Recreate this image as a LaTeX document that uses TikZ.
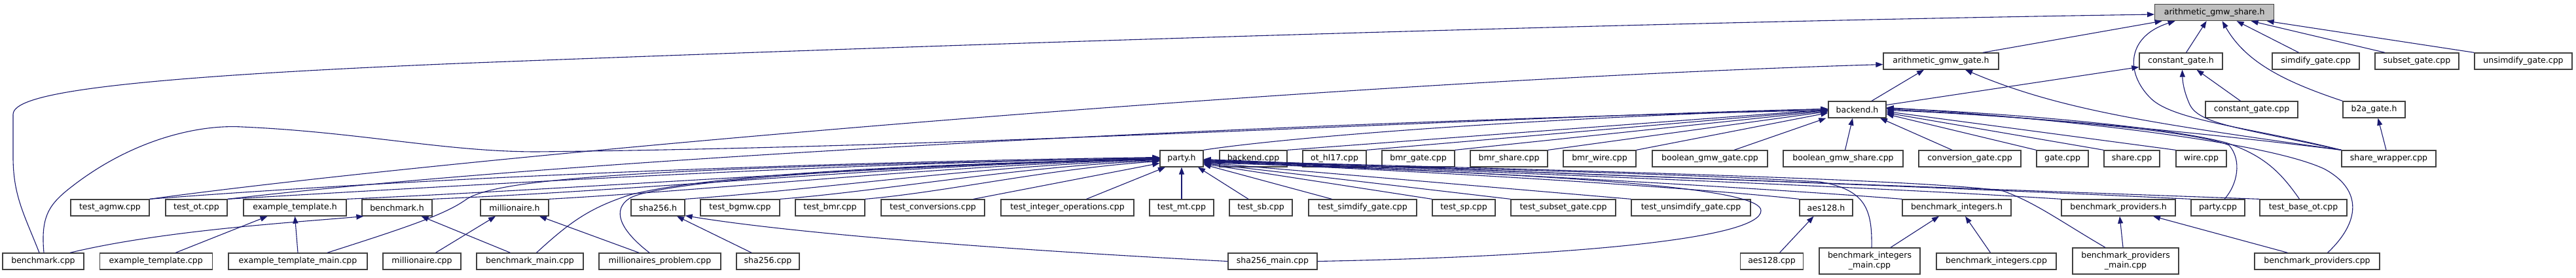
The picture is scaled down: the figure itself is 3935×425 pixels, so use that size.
\documentclass[tikz,border=0pt]{standalone}
\usepackage{fontspec}
\setmainfont{DejaVu Sans}
\usetikzlibrary{arrows.meta}
\definecolor{edgec}{HTML}{191970}
\definecolor{boxc}{HTML}{404040}
\definecolor{rootc}{HTML}{BFBFBF}
\begin{document}
\begin{tikzpicture}[x=1pt,y=-1pt,
  box/.style={draw=boxc,line width=1.3pt,fill=white,minimum height=25pt,inner sep=0pt,font=\fontsize{12.5}{15}\selectfont,align=center},
  twoline/.style={box,minimum height=40pt},
  dep/.style={draw=edgec,line width=1.1pt,line join=round,-{Triangle[length=11pt,width=8pt]}}]
\fill[white] (0,0) rectangle (3935,425);
\useasboundingbox (0,0) rectangle (3935,425);
% row 0
\node[box,fill=rootc,minimum width=182pt] (A0) at (3382.6,19) {arithmetic\_gmw\_share.h};
% row 1
\node[box,minimum width=176pt] (agate) at (2965,93.5) {arithmetic\_gmw\_gate.h};
\node[box,minimum width=127pt] (cgateh) at (3331.5,93.5) {constant\_gate.h};
\node[box,minimum width=133pt] (simd) at (3537.5,93.5) {simdify\_gate.cpp};
\node[box,minimum width=128pt] (subset) at (3692,93.5) {subset\_gate.cpp};
\node[box,minimum width=149pt] (unsimd) at (3854.5,93.5) {unsimdify\_gate.cpp};
% row 2
\node[box,minimum width=88pt] (backendh) at (2837,167.5) {backend.h};
\node[box,minimum width=141pt] (cgatecpp) at (3439.5,167.5) {constant\_gate.cpp};
\node[box,minimum width=95pt] (b2a) at (3626.5,167.5) {b2a\_gate.h};
% row 3
\node[box,minimum width=66pt] (partyh) at (1805,242.5) {party.h};
\node[box,minimum width=103pt] (backendcpp) at (1914.5,242.5) {backend.cpp};
\node[box,minimum width=97pt] (othl17) at (2038.5,242.5) {ot\_hl17.cpp};
\node[box,minimum width=111pt] (bmrgate) at (2166.5,242.5) {bmr\_gate.cpp};
\node[box,minimum width=118pt] (bmrshare) at (2305,242.5) {bmr\_share.cpp};
\node[box,minimum width=111pt] (bmrwire) at (2443.5,242.5) {bmr\_wire.cpp};
\node[box,minimum width=176pt] (bgmwgate) at (2612,242.5) {boolean\_gmw\_gate.cpp};
\node[box,minimum width=183pt] (bgmwshare) at (2815.5,242.5) {boolean\_gmw\_share.cpp};
\node[box,minimum width=156pt] (convgate) at (3009,242.5) {conversion\_gate.cpp};
\node[box,minimum width=79pt] (gatecpp) at (3150.5,242.5) {gate.cpp};
\node[box,minimum width=85pt] (sharecpp) at (3256.5,242.5) {share.cpp};
\node[box,minimum width=77pt] (wirecpp) at (3362.5,242.5) {wire.cpp};
\node[box,minimum width=144pt] (sharewrapper) at (3649,242.5) {share\_wrapper.cpp};
% row 4
\node[box,minimum width=120pt] (testagmw) at (168,317.5) {test\_agmw.cpp};
\node[box,minimum width=94pt] (testot) at (300,317.5) {test\_ot.cpp};
\node[box,minimum width=157pt] (extemplh) at (450.5,317.5) {example\_template.h};
\node[box,minimum width=107pt] (benchh) at (606.5,317.5) {benchmark.h};
\node[box,minimum width=104pt] (millh) at (786,317.5) {millionaire.h};
\node[box,minimum width=82pt] (shah) at (1005,317.5) {sha256.h};
\node[box,minimum width=121pt] (testbgmw) at (1130.5,317.5) {test\_bgmw.cpp};
\node[box,minimum width=106pt] (testbmr) at (1268,317.5) {test\_bmr.cpp};
\node[box,minimum width=158pt] (testconv) at (1425,317.5) {test\_conversions.cpp};
\node[box,minimum width=203pt] (testintops) at (1630.5,317.5) {test\_integer\_operations.cpp};
\node[box,minimum width=98pt] (testmt) at (1805,317.5) {test\_mt.cpp};
\node[box,minimum width=96pt] (testsb) at (1926,317.5) {test\_sb.cpp};
\node[box,minimum width=165pt] (testsimd) at (2081.5,317.5) {test\_simdify\_gate.cpp};
\node[box,minimum width=96pt] (testsp) at (2236,317.5) {test\_sp.cpp};
\node[box,minimum width=160pt] (testsubset) at (2388,317.5) {test\_subset\_gate.cpp};
\node[box,minimum width=182pt] (testunsimd) at (2583,317.5) {test\_unsimdify\_gate.cpp};
\node[box,minimum width=81pt] (aesh) at (2789.5,317.5) {aes128.h};
\node[box,minimum width=166pt] (benchinth) at (2989,317.5) {benchmark\_integers.h};
\node[box,minimum width=174pt] (benchprovh) at (3236,317.5) {benchmark\_providers.h};
\node[box,minimum width=82pt] (partycpp) at (3388,317.5) {party.cpp};
\node[box,minimum width=133pt] (testbaseot) at (3518.5,317.5) {test\_base\_ot.cpp};
% row 5
\node[box,minimum width=124pt] (benchcpp) at (66,399.5) {benchmark.cpp};
\node[box,minimum width=172pt] (extemplcpp) at (238.25,399.5) {example\_template.cpp};
\node[box,minimum width=212pt] (extemplmain) at (455,399.5) {example\_template\_main.cpp};
\node[box,minimum width=119pt] (millcpp) at (644.5,399.5) {millionaire.cpp};
\node[box,minimum width=163pt] (benchmain) at (809.5,399.5) {benchmark\_main.cpp};
\node[box,minimum width=186pt] (millprob) at (1008,399.5) {millionaires\_problem.cpp};
\node[box,minimum width=96pt] (shacpp) at (1173,399.5) {sha256.cpp};
\node[box,minimum width=136pt] (shamain) at (1944,399.5) {sha256\_main.cpp};
\node[box,minimum width=96pt] (aescpp) at (2706.5,399.5) {aes128.cpp};
\node[twoline,minimum width=154pt] (benchintmain) at (2856,399) {benchmark\_integers\\\_main.cpp};
\node[box,minimum width=183pt] (benchintcpp) at (3049.5,399.5) {benchmark\_integers.cpp};
\node[twoline,minimum width=162pt] (benchprovmain) at (3247,399) {benchmark\_providers\\\_main.cpp};
\node[box,minimum width=191pt] (benchprovcpp) at (3539.5,399.5) {benchmark\_providers.cpp};

% ---- edges into arithmetic_gmw_share.h
\draw[dep] ([xshift=-6pt]benchcpp.north) .. controls (38,330) and (20,300) .. (20,240) -- (20,175) .. controls (20,145) and (150,120) .. (700,97) .. controls (1500,66) and (2500,34) .. ([yshift=-3pt]A0.west);
\draw[dep] ([xshift=64pt]agate.north) -- ([xshift=-80pt]A0.south);
\draw[dep] ([xshift=8pt]cgateh.north) -- ([xshift=-12pt]A0.south);
\draw[dep] (sharewrapper.north west) .. controls (3440,195) and (3320,185) .. (3285,150) .. controls (3245,110) and (3250,55) .. ([xshift=-60pt]A0.south);
\draw[dep] (b2a.north west) .. controls (3490,125) and (3430,95) .. ([xshift=12pt]A0.south);
\draw[dep] ([xshift=-26pt]simd.north) -- ([xshift=34pt]A0.south);
\draw[dep] ([xshift=-49pt]subset.north) -- ([xshift=56pt]A0.south);
\draw[dep] (unsimd.north west) -- ([xshift=80pt]A0.south);
% ---- into arithmetic_gmw_gate.h
\draw[dep] (testagmw.north east) .. controls (700,240) and (2000,125) .. ([yshift=-5pt]agate.west);
\draw[dep] ([xshift=22pt]backendh.north) -- ([xshift=-26pt]agate.south);
\draw[dep] (sharewrapper.north west) .. controls (3300,190) and (3150,170) .. ([xshift=37pt]agate.south);
% ---- into constant_gate.h
\draw[dep] ([yshift=7pt]backendh.east) -- ([yshift=-9pt]cgateh.west);
\draw[dep] ([xshift=-17pt]cgatecpp.north) -- ([xshift=24pt]cgateh.south);
\draw[dep] (sharewrapper.north west) .. controls (3420,195) and (3360,190) .. (3345,160) .. controls (3336,140) and (3334,125) .. ([xshift=2pt]cgateh.south);
% ---- into b2a_gate.h
\draw[dep] ([xshift=-4pt]sharewrapper.north) -- ([xshift=6pt]b2a.south);
% ---- into backend.h
\draw[dep] ([xshift=1pt]benchcpp.north) .. controls (62,330) and (75,312) .. (110,285) .. controls (200,215) and (300,190) .. (370,194) .. controls (550,202) and (680,232) .. (820,232) .. controls (1500,225) and (2300,178) .. ([yshift=1pt]backendh.west);
\draw[dep] (testot.north east) .. controls (900,240) and (2000,185) .. ([yshift=-1pt]backendh.west);
\draw[dep] (partyh.north east) .. controls (1950,212) and (2300,182) .. ([yshift=1pt]backendh.west);
\draw[dep] (backendcpp.north east) -- (backendh.west);
\draw[dep] (othl17.north east) -- ([yshift=-1pt]backendh.west);
\draw[dep] (bmrgate.north east) -- ([yshift=-2pt]backendh.west);
\draw[dep] (bmrshare.north east) -- ([yshift=-3pt]backendh.west);
\draw[dep] (bmrwire.north east) -- ([yshift=-5pt]backendh.west);
\draw[dep] ([xshift=37pt]bgmwgate.north) -- ([xshift=-3pt]backendh.south west);
\draw[dep] ([xshift=3pt]bgmwshare.north) -- ([xshift=-7pt]backendh.south);
\draw[dep] ([xshift=-27pt]convgate.north) -- ([xshift=35pt]backendh.south);
\draw[dep] (gatecpp.north west) -- ([yshift=-7pt]backendh.east);
\draw[dep] (sharecpp.north west) -- ([yshift=-5pt]backendh.east);
\draw[dep] (wirecpp.north west) -- ([yshift=-3pt]backendh.east);
\draw[dep] (sharewrapper.north west) .. controls (3300,195) and (3050,175) .. ([yshift=-1pt]backendh.east);
\draw[dep] ([xshift=10pt]partycpp.north) .. controls (3418,282) and (3425,245) .. (3405,222) .. controls (3345,198) and (3100,180) .. ([yshift=1pt]backendh.east);
\draw[dep] ([xshift=-6pt]testbaseot.north) .. controls (3485,265) and (3460,238) .. (3400,218) .. controls (3300,192) and (3050,172) .. ([yshift=2pt]backendh.east);
\draw[dep] ([xshift=16pt]benchprovcpp.north) .. controls (3605,340) and (3610,290) .. (3550,258) .. controls (3450,212) and (3100,178) .. ([yshift=3pt]backendh.east);
% ---- into party.h, from the left
\draw[dep] (testagmw.north east) .. controls (700,268) and (1300,247) .. ([yshift=2pt]partyh.west);
\draw[dep] (testot.north east) .. controls (800,278) and (1300,249) .. ([yshift=1pt]partyh.west);
\draw[dep] (extemplh.north east) .. controls (900,288) and (1400,250) .. (partyh.west);
\draw[dep] (benchh.north east) .. controls (1000,290) and (1400,250) .. ([yshift=-1pt]partyh.west);
\draw[dep] (millh.north east) .. controls (1100,290) and (1450,252) .. ([yshift=-1pt]partyh.west);
\draw[dep] (shah.north east) .. controls (1250,290) and (1500,253) .. ([yshift=-2pt]partyh.west);
\draw[dep] (testbgmw.north east) .. controls (1350,292) and (1550,255) .. ([yshift=-3pt]partyh.west);
\draw[dep] (testbmr.north east) .. controls (1450,293) and (1600,258) .. ([yshift=-4pt]partyh.west);
\draw[dep] ([xshift=62pt]testconv.north) -- ([yshift=-7pt]partyh.west);
\draw[dep] ([xshift=29pt]testintops.north) -- ([xshift=-25pt]partyh.south);
\draw[dep] (testmt.north) -- (partyh.south);
\draw[dep] ([xshift=45pt]extemplmain.north) .. controls (620,348) and (680,328) .. (712,305) .. controls (760,272) and (1000,256) .. ([yshift=1pt]partyh.west);
\draw[dep] ([xshift=10pt]benchmain.north) .. controls (870,340) and (900,318) .. (962,298) .. controls (1100,262) and (1500,249) .. (partyh.west);
\draw[dep] ([xshift=-16pt]millprob.north) .. controls (945,350) and (935,320) .. (962,303) .. controls (1000,280) and (1300,253) .. ([yshift=-1pt]partyh.west);
% ---- into party.h, from the right
\draw[dep] ([xshift=-19pt]testsb.north) -- ([xshift=25pt]partyh.south);
\draw[dep] ([xshift=-47pt]testsimd.north) -- ([yshift=-9pt]partyh.east);
\draw[dep] (testsp.north west) -- ([yshift=-8pt]partyh.east);
\draw[dep] (testsubset.north west) -- ([yshift=-7pt]partyh.east);
\draw[dep] (testunsimd.north west) -- ([yshift=-6pt]partyh.east);
\draw[dep] (aesh.north west) .. controls (2600,288) and (2200,262) .. ([yshift=-5pt]partyh.east);
\draw[dep] (benchinth.north west) .. controls (2700,288) and (2250,262) .. ([yshift=-4pt]partyh.east);
\draw[dep] (benchprovh.north west) .. controls (2850,285) and (2250,262) .. ([yshift=-3pt]partyh.east);
\draw[dep] (partycpp.north west) .. controls (2950,285) and (2300,262) .. ([yshift=-2pt]partyh.east);
\draw[dep] (testbaseot.north west) .. controls (3000,288) and (2300,262) .. ([yshift=-1pt]partyh.east);
\draw[dep] (shamain.east) .. controls (2400,392) and (2690,365) .. (2690,322) .. controls (2690,290) and (2450,268) .. ([yshift=-6pt]partyh.east);
\draw[dep] ([xshift=3pt]benchintmain.north) .. controls (2860,320) and (2850,290) .. (2780,278) .. controls (2500,262) and (2100,255) .. ([yshift=-4pt]partyh.east);
\draw[dep] ([xshift=-31pt]benchprovmain.north) .. controls (3150,340) and (3110,310) .. (3060,292) .. controls (2950,275) and (2400,260) .. ([yshift=-3pt]partyh.east);
% ---- bottom level
\draw[dep] ([xshift=41pt]benchcpp.north) .. controls (250,352) and (450,340) .. ([xshift=3pt]benchh.south west);
\draw[dep] ([xshift=30pt]extemplcpp.north) -- ([xshift=-42pt]extemplh.south);
\draw[dep] (extemplmain.north) -- (extemplh.south);
\draw[dep] ([xshift=-30pt]benchmain.north) -- ([xshift=37pt]benchh.south);
\draw[dep] ([xshift=21pt]millcpp.north) -- ([xshift=-29pt]millh.south);
\draw[dep] ([xshift=-32pt]millprob.north) -- ([xshift=38pt]millh.south);
\draw[dep] ([xshift=-25pt]shacpp.north) -- ([xshift=29pt]shah.south);
\draw[dep] (shamain.west) .. controls (1500,380) and (1200,355) .. ([yshift=1pt]shah.south east);
\draw[dep] ([xshift=12pt]aescpp.north) -- ([xshift=-19pt]aesh.south);
\draw[dep] ([xshift=32pt]benchintmain.north) -- ([xshift=-27pt]benchinth.south);
\draw[dep] ([xshift=-9pt]benchintcpp.north) -- ([xshift=13pt]benchinth.south);
\draw[dep] ([xshift=-4pt]benchprovmain.north) -- ([xshift=2pt]benchprovh.south);
\draw[dep] ([xshift=-45pt]benchprovcpp.north) -- ([xshift=53pt]benchprovh.south);
\end{tikzpicture}
\end{document}
